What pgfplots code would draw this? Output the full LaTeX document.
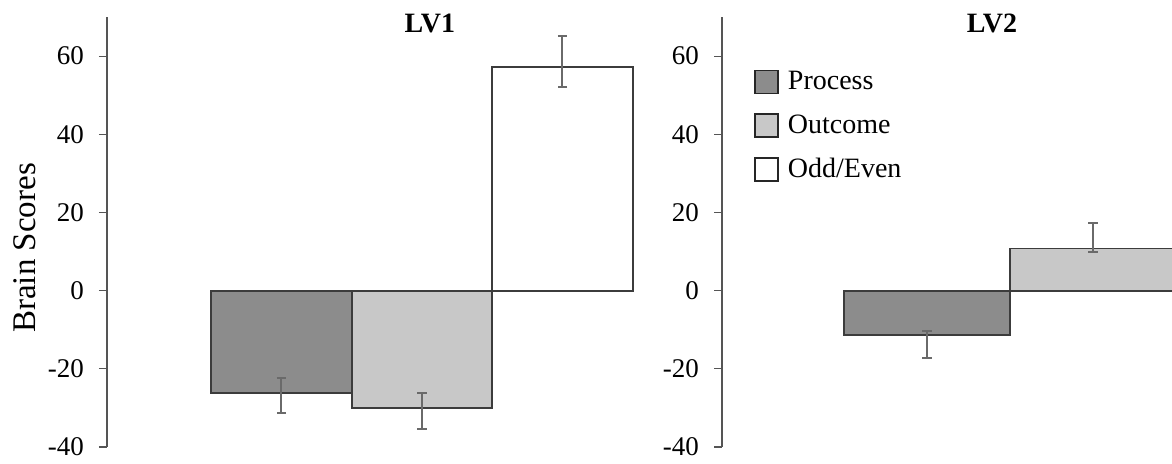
\documentclass[border=0pt]{standalone}
\usepackage{fontspec}
\setmainfont{Liberation Serif}
\usepackage{pgfplots}
\pgfplotsset{compat=1.18}
\definecolor{procfill}{HTML}{8C8C8C}
\definecolor{outfill}{HTML}{C8C8C8}
\definecolor{edge}{HTML}{3C3C3C}
\definecolor{errc}{HTML}{6A6A6A}
\definecolor{axc}{HTML}{555555}
\pgfplotsset{
  panel/.style={
    scale only axis, height=215pt, ymin=-40, ymax=70,
    axis x line=none, axis y line*=left,
    ytick={-40,-20,0,20,40,60},
    tick align=outside, major tick length=4pt,
    tick style={axc, line width=0.6pt},
    axis line style={axc, line width=0.6pt},
    /pgf/number format/assume math mode=true,
    tick label style={font=\fontsize{13.5}{16}\selectfont},
    yticklabel style={xshift=-4pt},
    title style={anchor=center, yshift=-6pt, font=\bfseries\fontsize{14}{16}\selectfont},
    clip=true,
  },
  bars/.style={ybar, bar width=1, bar shift=0, draw=edge, line width=0.9pt,
    error bars/y dir=both, error bars/y explicit,
    error bars/error bar style={errc, line width=1pt},
    error bars/error mark options={errc, line width=1pt, mark size=2.3pt, rotate=90}},
}
\begin{document}
\begin{tikzpicture}
\useasboundingbox (0,0) rectangle (586pt,231.5pt);
\clip (0,0) rectangle (586pt,231.5pt);
% LV1
\begin{axis}[panel,
  at={(53.5pt,8pt)}, anchor=south west,
  width=271.3pt, xmin=-0.242, xmax=3.62,
  title={LV1}, title style={at={(axis description cs:0.595,0.986)}},
  ylabel={Brain Scores},
  ylabel style={at={(axis description cs:-0.151,0.463)}, anchor=center, font=\fontsize{16.5}{18}\selectfont},
]
\addplot[bars, fill=procfill] coordinates {(1,-26.2) += (0,3.9) -= (0,5.1)};
\addplot[bars, fill=outfill] coordinates {(2,-30.0) += (0,3.8) -= (0,5.4)};
\addplot[bars, fill=white] coordinates {(3,57.2) += (0,7.9) -= (0,5.2)};
\end{axis}
% LV2
\begin{axis}[panel,
  at={(361pt,8pt)}, anchor=south west,
  width=225pt, xmin=-0.235, xmax=2.476,
  title={LV2}, title style={at={(axis description cs:0.6,0.986)}},
  legend image code/.code={\draw[#1] (0pt,-5.75pt) rectangle (11.5pt,5.75pt);},
  legend style={at={(axis description cs:0.071,0.884)}, anchor=north west,
    draw=none, fill=none, inner sep=0pt, row sep=7pt,
    font=\fontsize{14}{16}\selectfont, cells={anchor=west},
    /tikz/every odd column/.append style={column sep=2.5pt}},
]
\addplot[bars, fill=procfill, forget plot] coordinates {(1,-11.3) += (0,1.0) -= (0,5.9)};
\addplot[bars, fill=outfill, forget plot] coordinates {(2,10.8) += (0,6.4) -= (0,0.8)};
\addlegendimage{fill=procfill, draw=black!85, line width=0.8pt}
\addlegendentry{Process}
\addlegendimage{fill=outfill, draw=black!85, line width=0.8pt}
\addlegendentry{Outcome}
\addlegendimage{fill=white, draw=black!85, line width=0.8pt}
\addlegendentry{Odd/Even}
\end{axis}
\end{tikzpicture}
\end{document}
